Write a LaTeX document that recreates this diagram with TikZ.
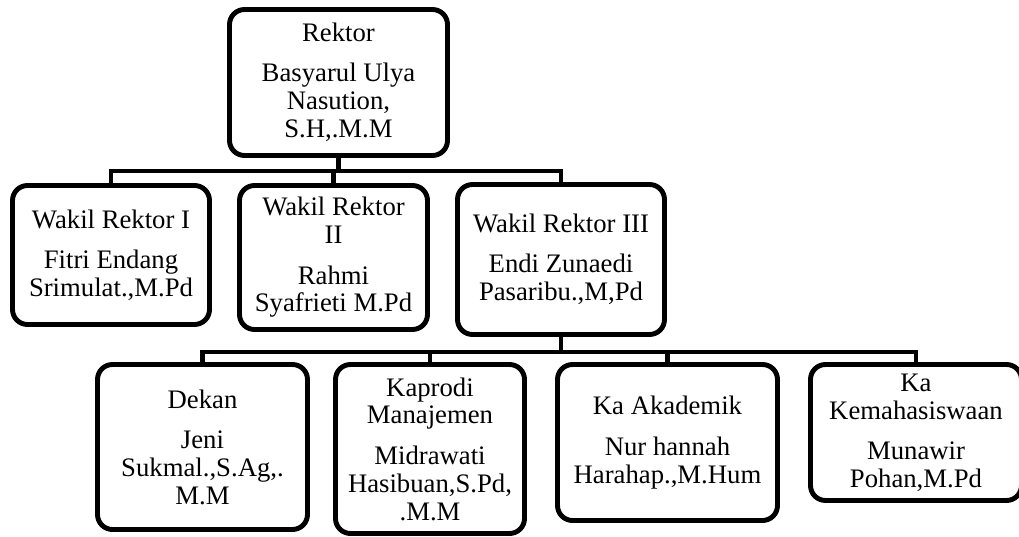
\documentclass[tikz,border=0pt]{standalone}
\usepackage{fontspec}
\setmainfont{Liberation Serif}
\usepackage{tikz}
\usetikzlibrary{calc}

\tikzset{
  kotak/.style={draw, line width=2.8pt, rounded corners=0.3cm, align=center,
    inner sep=0pt, font=\fontsize{15.2}{15.9}\selectfont},
  garis/.style={line width=2.8pt}
}

\begin{document}
\begin{tikzpicture}
	\useasboundingbox[fill=white] (0,0) rectangle (20.38,-10.74);
	% pimpinan
	\node[kotak, minimum width=4.36cm, minimum height=2.92cm] (rektor) at (6.77,-1.65)
		{Rektor\\[7pt] Basyarul Ulya\\ Nasution,\\ S.H,.M.M};
	% wakil rektor
	\node[kotak, minimum width=3.94cm, minimum height=2.78cm] (wr1) at (2.22,-5.10)
		{Wakil Rektor I\\[7pt] Fitri Endang\\ Srimulat.,M.Pd};
	\node[kotak, minimum width=3.76cm, minimum height=2.88cm] (wr2) at (6.67,-5.15)
		{Wakil Rektor\\ II\\[7pt] Rahmi\\ Syafrieti M.Pd};
	\node[kotak, minimum width=4.14cm, minimum height=3.00cm] (wr3) at (11.22,-5.19)
		{Wakil Rektor III\\[7pt] Endi Zunaedi\\ Pasaribu.,M,Pd};
	% bawah wakil rektor III
	\node[kotak, minimum width=4.20cm, minimum height=3.30cm] (dekan) at (4.05,-8.94)
		{Dekan\\[7pt] Jeni\\ Sukmal.,S.Ag,.\\ M.M};
	\node[kotak, minimum width=3.78cm, minimum height=3.38cm] (kaprodi) at (8.60,-8.98)
		{Kaprodi\\ Manajemen\\[7pt] Midrawati\\ Hasibuan,S.Pd,\\ .M.M};
	\node[kotak, minimum width=4.40cm, minimum height=3.12cm] (akademik) at (13.35,-8.85)
		{Ka Akademik\\[7pt] Nur hannah\\ Harahap.,M.Hum};
	\node[kotak, minimum width=4.22cm, minimum height=2.72cm] (kemahasiswaan) at (18.32,-8.65)
		{Ka\\ Kemahasiswaan\\[7pt] Munawir\\ Pohan,M.Pd};
	% garis penghubung
	\coordinate (bus1) at (0,-3.42);
	\coordinate (bus2) at (0,-7.04);
	\foreach \n in {wr1,wr2,wr3}
		\draw[garis] (rektor.south) -- (rektor.south |- bus1) -| (\n.north);
	\foreach \n in {dekan,kaprodi,akademik,kemahasiswaan}
		\draw[garis] (wr3.south) -- (wr3.south |- bus2) -| (\n.north);
\end{tikzpicture}
\end{document}
